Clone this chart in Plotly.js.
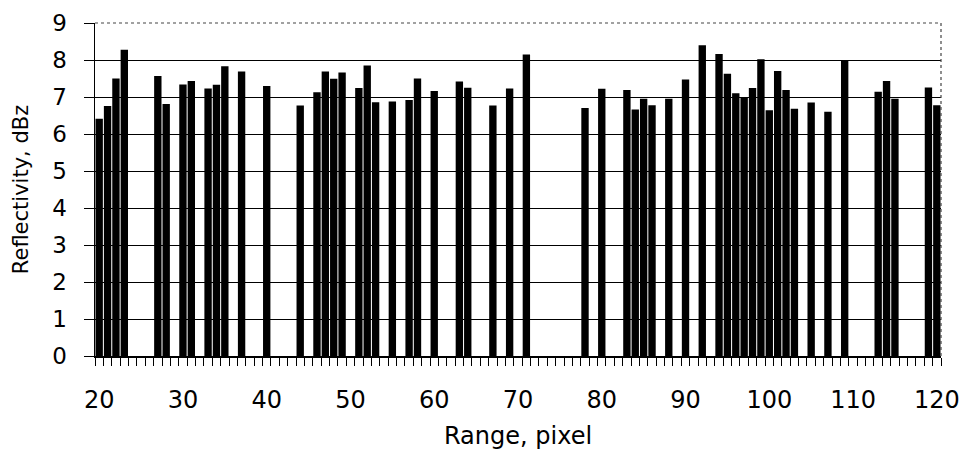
<!DOCTYPE html>
<html>
<head>
<meta charset="utf-8">
<script src="https://cdn.plot.ly/plotly-3.0.1.min.js"></script>
<style>
html, body { margin: 0; padding: 0; background: #fff; }
#chart { width: 959px; height: 454px; }
</style>
</head>
<body>
<div id="chart"></div>
<script>
// Range (pixel) of each measured bin and its reflectivity (dBz)
const rangePixel = [20, 21, 22, 23, 27, 28, 30, 31, 33, 34, 35, 37, 40, 44, 46, 47, 48, 49,
  51, 52, 53, 55, 57, 58, 60, 63, 64, 67, 69, 71, 78, 80, 83, 84, 85, 86, 88, 90, 92,
  94, 95, 96, 97, 98, 99, 100, 101, 102, 103, 105, 107, 109, 113, 114, 115, 119, 120];
const reflectivity = [6.41, 6.76, 7.50, 8.28, 7.57, 6.81, 7.34, 7.43, 7.23, 7.33, 7.83, 7.69, 7.30, 6.77, 7.13, 7.69, 7.49, 7.66,
  7.24, 7.85, 6.86, 6.88, 6.92, 7.50, 7.16, 7.42, 7.25, 6.77, 7.23, 8.15, 6.70, 7.22, 7.19, 6.66, 6.95, 6.78, 6.95, 7.47, 8.40,
  8.16, 7.63, 7.10, 6.97, 7.24, 8.02, 6.64, 7.70, 7.19, 6.68, 6.85, 6.60, 7.97, 7.14, 7.43, 6.95, 7.26, 6.78];

const xTickVals = [20, 30, 40, 50, 60, 70, 80, 90, 100, 110, 120];
const xTickText = ['20', '30', '40', '50', '60', '70', '80', '90', '100', '110', '120'];
const yTickVals = [0, 1, 2, 3, 4, 5, 6, 7, 8, 9];

const font = 'DejaVu Sans, Arial, sans-serif';

const trace = {
  type: 'bar',
  x: rangePixel,
  y: reflectivity,
  width: 0.88,
  marker: { color: '#000000', line: { width: 0 } },
  hoverinfo: 'x+y'
};

const layout = {
  width: 959,
  height: 454,
  margin: { l: 95, r: 18, t: 23, b: 98, pad: 0 },
  paper_bgcolor: '#ffffff',
  plot_bgcolor: '#ffffff',
  showlegend: false,
  font: { family: font, color: '#000000', size: 21 },
  xaxis: {
    range: [19.5, 120.5],
    tickmode: 'array',
    tickvals: xTickVals,
    ticktext: xTickText,
    ticks: 'outside',
    ticklen: 22,
    tickcolor: 'rgba(0,0,0,0)',
    tickfont: { family: font, size: 24, color: '#000' },
    ticklabeloverflow: 'allow',
    showgrid: false,
    zeroline: false,
    showline: true,
    linecolor: '#000',
    linewidth: 1.5,
    minor: { ticks: 'outside', tick0: 19.5, dtick: 1, ticklen: 8, tickcolor: '#000', tickwidth: 1, showgrid: false },
    title: { text: 'Range, pixel', font: { family: font, size: 24, color: '#000' }, standoff: 14 },
    fixedrange: true
  },
  yaxis: {
    range: [0, 9],
    tickmode: 'array',
    tickvals: yTickVals,
    ticks: 'outside',
    ticklen: 10,
    tickcolor: '#000',
    tickwidth: 1,
    tickfont: { family: font, size: 23, color: '#000' },
    ticklabelstandoff: 12,
    showgrid: true,
    gridcolor: '#000',
    gridwidth: 1,
    zeroline: false,
    showline: true,
    linecolor: '#000',
    linewidth: 1.5,
    title: { text: 'Reflectivity, dBz', font: { family: font, size: 21, color: '#000' }, standoff: 18 },
    fixedrange: true
  },
  shapes: [
    { type: 'line', xref: 'paper', yref: 'paper', x0: 0.002, x1: 1, y0: 1, y1: 1, layer: 'above',
      line: { color: '#ffffff', width: 3 } },
    { type: 'line', xref: 'paper', yref: 'paper', x0: 0, x1: 1, y0: 1, y1: 1, layer: 'above',
      line: { color: '#444', width: 1.2, dash: 'dot' } },
    { type: 'line', xref: 'paper', yref: 'paper', x0: 1, x1: 1, y0: 0, y1: 1, layer: 'above',
      line: { color: '#444', width: 1.2, dash: 'dot' } }
  ]
};

Plotly.newPlot('chart', [trace], layout, { displayModeBar: false, staticPlot: true });
</script>
</body>
</html>
